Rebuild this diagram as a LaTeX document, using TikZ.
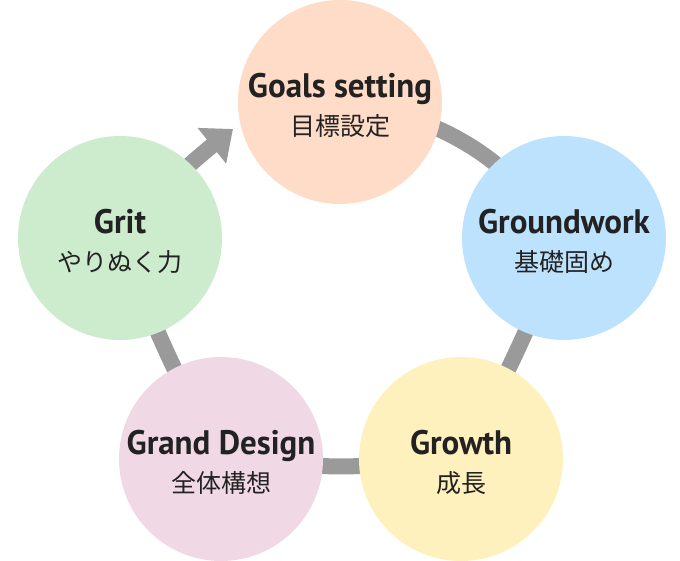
\documentclass[tikz,border=0pt]{standalone}
\usepackage{fontspec}
\newfontfamily\enfont[FakeStretch=0.97]{PT Sans}
\newfontfamily\jafont{Noto Sans CJK JP}
\usetikzlibrary{arrows.meta,bending,backgrounds}
\definecolor{goalsfill}{HTML}{FFDCC8}
\definecolor{groundfill}{HTML}{BDE2FD}
\definecolor{growthfill}{HTML}{FFF1BD}
\definecolor{grandfill}{HTML}{F0D9E5}
\definecolor{gritfill}{HTML}{CDEBCD}
\definecolor{linkgray}{HTML}{9A9A9A}
\definecolor{inkgray}{HTML}{222222}
\begin{document}
\begin{tikzpicture}[x=1pt,y=-1pt,
  stage/.style={circle,minimum size=204pt,inner sep=0pt,draw=none},
  entext/.style={anchor=base,inner sep=0pt,text=inkgray,font=\enfont\bfseries\fontsize{34}{36}\selectfont},
  jatext/.style={inner sep=0pt,text=inkgray,font=\jafont\fontsize{25}{27}\selectfont},
  link/.style={draw=linkgray,line width=16pt},
  flow/.style={link,-{Triangle[length=27pt,width=44pt,flex]}}]
  \useasboundingbox (0,0) rectangle (680,560);

  \node[stage,fill=goalsfill] (goals) at (340,102) {};
  \node[stage,fill=groundfill] (ground) at (564,238) {};
  \node[stage,fill=growthfill] (growth) at (461,459) {};
  \node[stage,fill=grandfill] (grand) at (221,459) {};
  \node[stage,fill=gritfill] (grit) at (120,238) {};

  \node[entext] (goalsen) at ([yshift=5pt]goals.center) {Goals setting};
  \node[jatext] (goalsja) at ([yshift=-24pt]goals.center) {目標設定};
  \node[entext] (grounden) at ([yshift=5pt]ground.center) {Groundwork};
  \node[jatext] (groundja) at ([yshift=-24pt]ground.center) {基礎固め};
  \node[entext] (growthen) at ([yshift=5pt]growth.center) {Growth};
  \node[jatext] (growthja) at ([yshift=-24pt]growth.center) {成長};
  \node[entext] (granden) at ([yshift=5pt]grand.center) {Grand Design};
  \node[jatext] (grandja) at ([yshift=-24pt]grand.center) {全体構想};
  \node[entext] (griten) at ([yshift=5pt]grit.center) {Grit};
  \node[jatext] (gritja) at ([yshift=-24pt]grit.center) {やりぬく力};

  \coordinate (tip) at (233,129);

  \begin{scope}[on background layer]
    \draw[link] (goals.center) to[bend left=23] (ground.center);
    \draw[link] (ground.center) to[bend left=4] (growth.center);
    \draw[link] (growth.center) to[bend left=6] (grand.center);
    \draw[link] (grand.center) to[bend left=4] (grit.center);
    \draw[flow] (grit.center) to[bend left=6] (tip);
  \end{scope}
\end{tikzpicture}
\end{document}
